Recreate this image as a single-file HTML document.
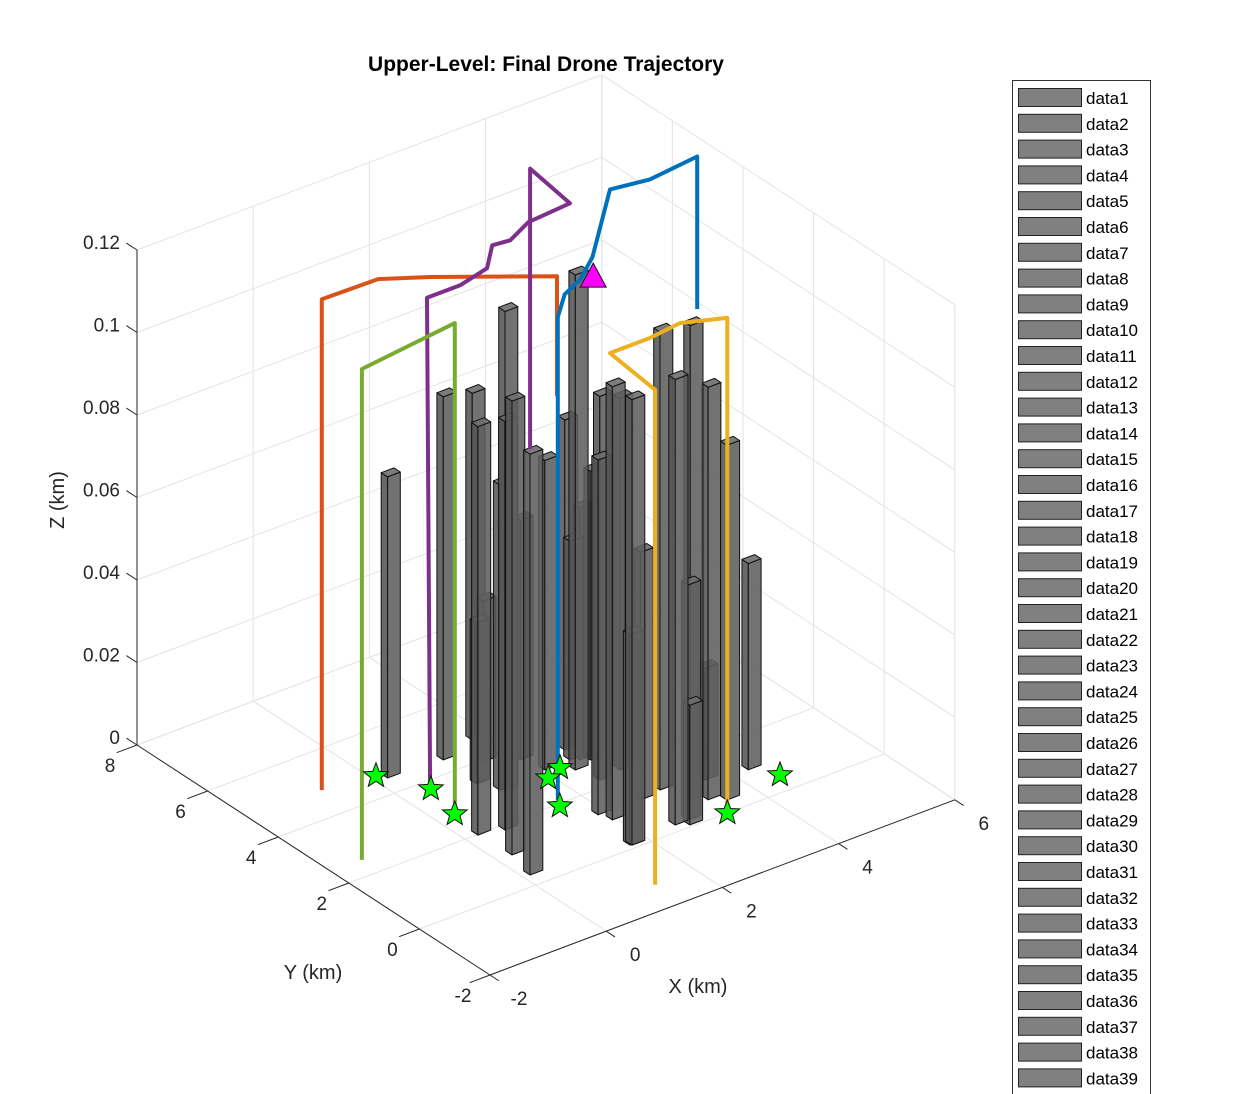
<!DOCTYPE html>
<html><head><meta charset="utf-8"><style>
html,body{margin:0;padding:0;background:#fff;}
svg{display:block;font-family:"Liberation Sans",Arial,sans-serif;}
</style></head><body>
<svg id="chart" width="1250" height="1094" viewBox="0 0 1250 1094"></svg>
<script>
// ---- data ----
const xTicks=[-2,0,2,4,6];
const yTicks=[-2,0,2,4,6,8];
const zTicks=[0,0.02,0.04,0.06,0.08,0.1,0.12];
const zTickLabels=["0","0.02","0.04","0.06","0.08","0.1","0.12"];
const bldX=[0.18,1.09,1.74,0.21,1.26,0.25,0.11,2.36,2.47,1.93,1.72,2.95,3.11,2.53,3.31,3.51,4.25,3.61,2.69,2.75,1.70,1.86,1.05,1.49,1.2,1.93,2.85,2.69,2.57,2.58,2.03,0.59,2.58,2.46];
const bldY=[4.49,4.41,4.66,1.98,2.94,1.08,0.34,2.76,3.09,1.0,0.1,1.33,0.74,0.21,0.56,0.36,0.97,1.14,0.06,0.21,0.13,1.29,3.4,3.94,2.99,3.61,2.3,2.88,1.26,3.42,3.08,1.84,2.99,2.23];
const bldH=[0.073,0.088,0.084,0.099,0.116,0.11,0.102,0.12,0.053,0.105,0.108,0.111,0.115,0.108,0.1,0.086,0.05,0.027,0.029,0.057,0.051,0.086,0.039,0.039,0.074,0.058,0.09,0.07,0.06,0.08,0.075,0.099,0.061,0.093];
const orangeX=[-0.74,-0.74,0.21,0.81,2.21,2.21], orangeY=[4.84,4.84,4.81,4.33,3.03,3.03], orangeZ=[0,0.119,0.119,0.119,0.119,0.09];
const purpleX=[0.53,0.5,1.07,1.65,2.09,2.37,2.87,3.64,1.37,1.37], purpleY=[3.86,3.9,3.9,4.09,4.67,4.62,4.93,5.02,2.41,2.41], purpleZ=[0,0.118,0.118,0.118,0.118,0.118,0.118,0.118,0.153,0.085];
const blueX=[1.67,1.67,2.13,2.55,3.05,3.64,4.38,4.98,5.88,5.88], blueY=[2.12,2.12,2.68,2.93,3.41,4.16,5.1,4.96,5.1,5.1], blueZ=[0,0.117,0.117,0.117,0.117,0.117,0.117,0.117,0.117,0.08];
const greenX=[-1.47,-1.47,0.31,0.31], greenY=[2.5,2.5,2.8,2.8], greenZ=[0,0.119,0.119,0];
const yellowX=[1.31,1.31,1.43,2.12,2.7,3.3,3.3], yellowY=[-1.23,-1.23,0.25,0.25,0.35,0.0,0.0], yellowZ=[0,0.12,0.12,0.12,0.12,0.12,0];
const starX=[0.09,0.47,0.31,1.59,2.23,1.93,3.3,4.51], starY=[4.67,3.74,2.8,1.93,2.98,2.82,0.0,0.5];
const goalX=[2.59], goalY=[2.63], goalZ=[0.119];

// ---- projection ----
function P(x,y,z){return [490+58.1*(x+2)-35.3*(y+2), 975-21.9*(x+2)-23*(y+2)-4125*z];}
const svg=document.getElementById('chart');
const NS='http://www.w3.org/2000/svg';
function mk(tag,attrs,parent){const e=document.createElementNS(NS,tag);for(const k in attrs)e.setAttribute(k,attrs[k]);(parent||svg).appendChild(e);return e;}
function line(a,b,st,w,g){return mk('line',{x1:a[0],y1:a[1],x2:b[0],y2:b[1],stroke:st,'stroke-width':w},g);}
function pts(arr){return arr.map(p=>p[0].toFixed(1)+','+p[1].toFixed(1)).join(' ');}

// grid
const grid=mk('g',{});


const gc='#e3e3e3';
xTicks.forEach(x=>{line(P(x,8,0),P(x,8,0.12),gc,1,grid);line(P(x,-2,0),P(x,8,0),gc,1,grid);});
yTicks.forEach(y=>{line(P(6,y,0),P(6,y,0.12),gc,1,grid);line(P(-2,y,0),P(6,y,0),gc,1,grid);});
zTicks.forEach(z=>{line(P(-2,8,z),P(6,8,z),gc,1,grid);line(P(6,-2,z),P(6,8,z),gc,1,grid);});

// axes
const ax=mk('g',{});


const ac='#262626';
line(P(-2,-2,0),P(6,-2,0),ac,1,ax);
line(P(-2,-2,0),P(-2,8,0),ac,1,ax);
line(P(-2,8,0),P(-2,8,0.12),ac,1,ax);
xTicks.forEach(x=>{const a=P(x,-2,0),b=P(x,-2.25,0);line(a,b,ac,1,ax);
  const t=mk('text',{x:a[0]+29,y:a[1]+30,'font-size':19,fill:ac,'text-anchor':'middle'},ax);t.textContent=x;
  });
yTicks.forEach(y=>{const a=P(-2,y,0),b=P(-2.35,y,0);line(a,b,ac,1,ax);
  const t=mk('text',{x:a[0]-27,y:a[1]+27,'font-size':19,fill:ac,'text-anchor':'middle'},ax);t.textContent=y;
  });
zTicks.forEach((z,i)=>{const a=P(-2,8,z),b=P(-2,8.3,z);line(a,b,ac,1,ax);
  const t=mk('text',{x:a[0]-17,y:a[1]-1,'font-size':19,fill:ac,'text-anchor':'end'},ax);t.textContent=zTickLabels[i];
  });
let t;
t=mk('text',{x:698,y:993,'font-size':20,fill:ac,'text-anchor':'middle'});t.textContent='X (km)';

t=mk('text',{x:313,y:979,'font-size':20,fill:ac,'text-anchor':'middle'});t.textContent='Y (km)';

t=mk('text',{x:0,y:0,'font-size':20,fill:ac,'text-anchor':'middle',transform:'translate(64,500) rotate(-90)'});t.textContent='Z (km)';

t=mk('text',{x:546,y:71,'font-size':21,'font-weight':'bold',fill:'#000','text-anchor':'middle'});t.textContent='Upper-Level: Final Drone Trajectory';


// buildings
const bg=mk('g',{});


const W=0.22,D=0.18;
const order=bldX.map((_,i)=>i).sort((a,b)=>P(bldX[a],bldY[a],0)[1]-P(bldX[b],bldY[b],0)[1]);
order.forEach(i=>{
  const x=bldX[i],y=bldY[i],h=bldH[i];
  const g=mk('g',{},bg);
  
  
  const st={stroke:'#111','stroke-width':1,'stroke-linejoin':'round'};
  mk('polygon',Object.assign({points:pts([P(x,y+D,0),P(x,y,0),P(x,y,h),P(x,y+D,h)]),fill:'rgba(85,85,85,0.88)'},st),g);
  mk('polygon',Object.assign({points:pts([P(x,y,0),P(x+W,y,0),P(x+W,y,h),P(x,y,h)]),fill:'rgba(95,95,95,0.88)'},st),g);
  mk('polygon',Object.assign({points:pts([P(x,y,h),P(x+W,y,h),P(x+W,y+D,h),P(x,y+D,h)]),fill:'rgba(110,110,110,0.9)'},st),g);
});

// trajectories
function traj(X,Y,Z,color,name){
  const p=X.map((_,i)=>P(X[i],Y[i],Z[i]));
  const e=mk('polyline',{points:pts(p),fill:'none',stroke:color,'stroke-width':4,'stroke-linejoin':'round'});
  
  
}
traj(orangeX,orangeY,orangeZ,'#D95319','trajectory-orange');
traj(purpleX,purpleY,purpleZ,'#7E2F8E','trajectory-purple');
traj(blueX,blueY,blueZ,'#0072BD','trajectory-blue');
traj(greenX,greenY,greenZ,'#77AC30','trajectory-green');
traj(yellowX,yellowY,yellowZ,'#EDB120','trajectory-yellow');

// stars
function starPts(cx,cy,R,r){const a=[];for(let k=0;k<10;k++){const ang=-Math.PI/2+k*Math.PI/5;const rr=k%2?r:R;a.push([cx+rr*Math.cos(ang),cy+rr*Math.sin(ang)]);}return pts(a);}
starX.forEach((x,i)=>{const c=P(x,starY[i],0);
  const s=mk('polygon',{points:starPts(c[0],c[1],13,5.5),fill:'#00FF00',stroke:'#111','stroke-width':1});
  
  });
goalX.forEach((x,i)=>{const c=P(x,goalY[i],goalZ[i]);
  const s=mk('polygon',{points:pts([[c[0],c[1]-14],[c[0]-13,c[1]+10],[c[0]+13,c[1]+10]]),fill:'#FF00FF',stroke:'#111','stroke-width':1});
  
  });

// legend
const lg=mk('g',{});


mk('rect',{x:1012.5,y:80.5,width:138,height:1030,fill:'#fff',stroke:'#333','stroke-width':1},lg);
for(let i=0;i<40;i++){
  const y0=88+i*25.8;
  const r=mk('rect',{x:1018.5,y:y0+0.5,width:63,height:18,fill:'#808080',stroke:'#222','stroke-width':1},lg);
  
  
  const tx=mk('text',{x:1086,y:y0+16,'font-size':17,fill:'#000'},lg);
  tx.textContent='data'+(i+1);
  
  
}
</script>
</body></html>
